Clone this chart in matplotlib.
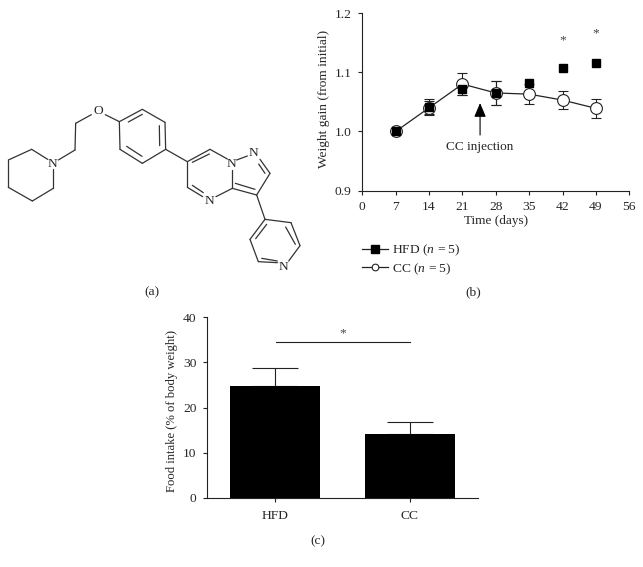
import matplotlib
matplotlib.use("Agg")
import matplotlib.pyplot as plt
from matplotlib.lines import Line2D

plt.rcParams['font.family'] = ['Liberation Serif', 'DejaVu Serif']
plt.rcParams['mathtext.fontset'] = 'custom'
plt.rcParams['mathtext.rm'] = 'Liberation Serif'
plt.rcParams['mathtext.it'] = 'Liberation Serif:italic'
plt.rcParams['mathtext.bf'] = 'Liberation Serif:bold'

# ---- data: panel (b)
days = [7, 14, 21, 28, 35, 42, 49]
hfd_gain = [1.000, 1.042, 1.072, 1.065, 1.082, 1.107, 1.116]
hfd_err = [0.0, 0.013, 0.010, 0.020, 0.0, 0.0, 0.0]
cc_gain = [1.000, 1.040, 1.080, 1.065, 1.063, 1.053, 1.039]
cc_err = [0.0, 0.012, 0.018, 0.020, 0.017, 0.015, 0.016]
star_days = [42, 49]
star_levels = [1.154, 1.166]
xticks_b = [0, 7, 14, 21, 28, 35, 42, 49, 56]
yticks_b = [0.9, 1.0, 1.1, 1.2]

# ---- data: panel (c)
groups = ['HFD', 'CC']
food = [24.7, 14.2]
food_err = [4.1, 2.5]
yticks_c = [0, 10, 20, 30, 40]

# ---- structure drawing of panel (a) (coordinates on the picture)
bonds = [
    ((25, 240), (95, 208)), ((95, 208), (143, 238)), ((160, 268), (160, 325)),
    ((160, 325), (97, 363)), ((97, 363), (25, 322)), ((25, 322), (25, 240)),
    ((175, 240), (225, 210)), ((225, 210), (227, 130)), ((227, 130), (274, 104)),
    ((316, 104), (358, 125)),
    ((358, 125), (427, 88)), ((427, 88), (495, 127)), ((495, 127), (497, 208)),
    ((497, 208), (427, 250)), ((427, 250), (360, 208)), ((360, 208), (358, 125)),
    ((385, 126), (427, 103)), ((478, 137), (479, 197)), ((380, 199), (426, 229)),
    ((497, 208), (562, 245)),
    ((562, 245), (630, 208)), ((630, 208), (682, 237)), ((697, 270), (697, 325)),
    ((697, 325), (648, 350)), ((608, 350), (562, 322)), ((562, 322), (562, 245)),
    ((577, 247), (628, 222)), ((577, 316), (610, 338)),
    ((710, 240), (742, 228)), ((780, 238), (810, 280)), ((810, 280), (770, 345)),
    ((770, 345), (697, 325)), ((776, 252), (795, 280)), ((706, 310), (765, 328)),
    ((770, 345), (795, 418)),
    ((795, 418), (873, 428)), ((873, 428), (900, 497)), ((900, 497), (866, 543)),
    ((832, 548), (775, 545)), ((775, 545), (750, 478)), ((750, 478), (795, 418)),
    ((857, 441), (886, 493)), ((785, 535), (832, 543)), ((767, 476), (800, 433)),
]
atoms = [('N', 158, 252), ('O', 296, 93), ('N', 695, 252), ('N', 762, 220),
         ('N', 628, 362), ('N', 850, 562)]

TXT = '#262626'
FS = 9.7
W, H = 643, 567
fig = plt.figure(figsize=(W / 100, H / 100), dpi=100)


def axes_px(l, t, r, b):
    return fig.add_axes([l / W, 1 - b / H, (r - l) / W, (b - t) / H])


def style(ax, xpad):
    for s in ['top', 'right']:
        ax.spines[s].set_visible(False)
    for s in ['left', 'bottom']:
        ax.spines[s].set_linewidth(0.8)
        ax.spines[s].set_color('#222222')
    ax.tick_params(length=3.2, width=0.8, labelsize=FS, color='#222222',
                   labelcolor=TXT)
    ax.tick_params(axis='y', pad=4.5)
    ax.tick_params(axis='x', pad=xpad)


def bars_where_nonzero(ax, xs, ys, errs):
    keep = [i for i, e in enumerate(errs) if e > 0]
    ax.errorbar([xs[i] for i in keep], [ys[i] for i in keep],
                yerr=[errs[i] for i in keep], fmt='none', ecolor='#222222',
                elinewidth=0.8, capsize=3.4, capthick=0.8, zorder=2)


# ---- overlay for structure and panel letters
ov = fig.add_axes([0, 0, 1, 1])
ov.set_xlim(0, W)
ov.set_ylim(H, 0)
ov.axis('off')
for (a, b) in bonds:
    ov.plot([a[0] / 3, b[0] / 3], [80 + a[1] / 3, 80 + b[1] / 3],
            color='#333333', lw=0.9, solid_capstyle='round')
for s, x, y in atoms:
    ov.text(x / 3, 80 + y / 3, s, ha='center', va='center', fontsize=FS, color=TXT)
ov.text(152, 292.5, '(a)', ha='center', va='center', fontsize=FS, color=TXT)
ov.text(473, 292.5, '(b)', ha='center', va='center', fontsize=FS, color=TXT)
ov.text(318, 541, '(c)', ha='center', va='center', fontsize=FS, color=TXT)

# ---- panel (b)
ax = axes_px(362.3, 13, 629.3, 190.7)
style(ax, 4.5)
ax.patch.set_alpha(0)
bars_where_nonzero(ax, days, cc_gain, cc_err)
bars_where_nonzero(ax, days, hfd_gain, hfd_err)
ax.plot(days, cc_gain, '-o', color='#222222', lw=0.9, ms=8.5, mfc='white',
        mec='#222222', mew=0.8, zorder=3, clip_on=False)
ax.plot(days, hfd_gain, 's', color='black', ms=5.4, zorder=4, clip_on=False)
ax.set_xlim(0, 56)
ax.set_ylim(0.9, 1.2)
ax.set_xticks(xticks_b)
ax.set_yticks(yticks_b)
ax.set_yticklabels([f'{v:.1f}' for v in yticks_b])
ax.set_xlabel('Time (days)', fontsize=9.5, color=TXT, labelpad=1.5)
ax.set_ylabel('Weight gain (from initial)', fontsize=9.6, color=TXT, labelpad=3.5, y=0.516)
for d, lv in zip(star_days, star_levels):
    ax.text(d, lv, '*', ha='center', va='center', fontsize=FS, color='#444444')
ax.annotate('', xy=(24.7, 1.048), xytext=(24.7, 0.994),
            arrowprops=dict(arrowstyle='-|>,head_width=0.36,head_length=0.85',
                            color='black', lw=0.8, shrinkA=0, shrinkB=0))
ax.text(24.6, 0.974, 'CC injection', ha='center', va='center', fontsize=9.5, color=TXT)

handles = [
    Line2D([], [], color='#222222', lw=0.9, marker='s', mfc='black', mec='black', ms=5.2),
    Line2D([], [], color='#222222', lw=0.9, marker='o', mfc='white', mec='#222222',
           mew=0.8, ms=4.8),
]
fig.legend(handles, [r'HFD ($\mathit{n}$ = 5)', r'CC ($\mathit{n}$ = 5)'],
           loc='upper left', bbox_to_anchor=(362 / W, 1 - 243 / H), frameon=False,
           fontsize=FS, labelcolor=TXT, handlelength=1.9, handletextpad=0.3,
           labelspacing=0.2, borderpad=0, borderaxespad=0)

# ---- panel (c)
ax2 = axes_px(207.3, 317.3, 478, 497.7)
style(ax2, 6)
ax2.patch.set_alpha(0)
xpos = list(range(len(groups)))
ax2.bar(xpos, food, width=0.668, color='black', zorder=3)
ax2.errorbar(xpos, food, yerr=[[0, 0], food_err], fmt='none', ecolor='#222222',
             elinewidth=0.8, capsize=16.6, capthick=0.8, zorder=2)
ax2.set_xlim(-0.503, 1.507)
ax2.set_ylim(0, 40)
ax2.set_xticks(xpos)
ax2.set_xticklabels(groups)
ax2.set_yticks(yticks_c)
ax2.set_ylabel('Food intake (% of body weight)', fontsize=9.1, color=TXT, labelpad=3.5, y=0.48)
ax2.plot([0.005, 1.005], [34.5, 34.5], color='#222222', lw=0.8)
ax2.text(0.505, 36.5, '*', ha='center', va='center', fontsize=FS, color='#444444')

fig.savefig('out.png', dpi=100)
